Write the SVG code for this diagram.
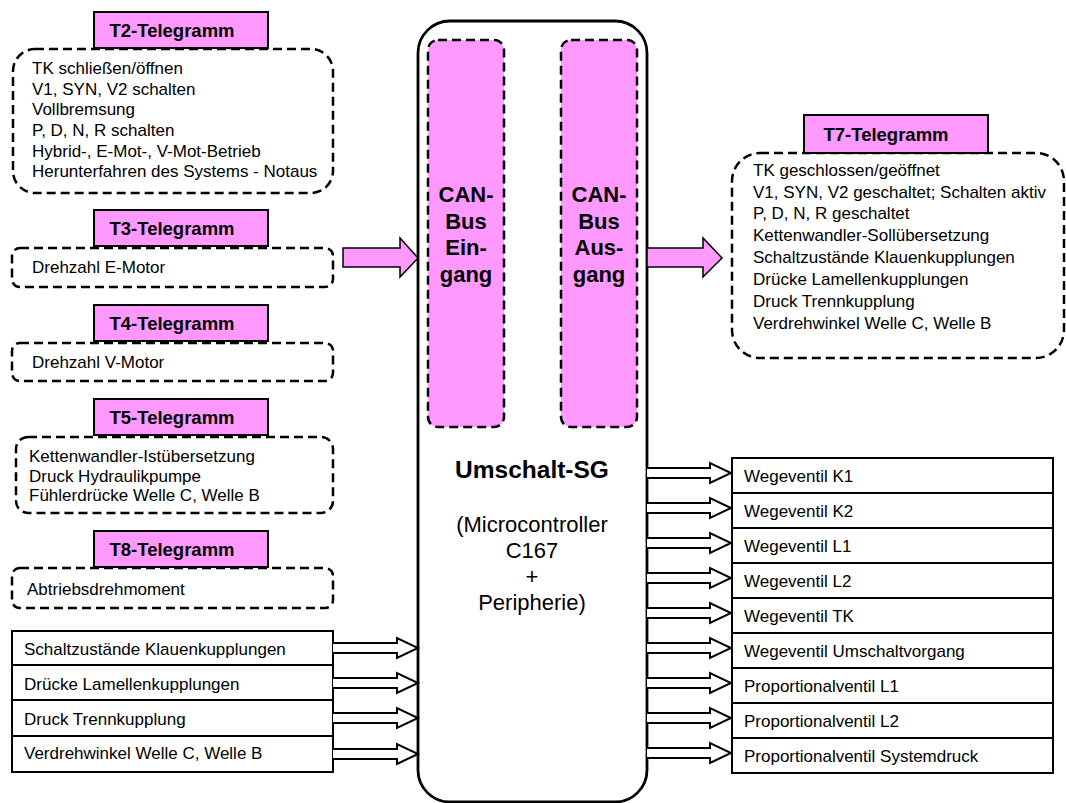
<svg xmlns="http://www.w3.org/2000/svg" width="1066" height="803" viewBox="0 0 1066 803">
<style>
text{font-family:"Liberation Sans",Arial,sans-serif;fill:#000}
.t{font-size:17px}
.b{font-weight:bold}
.lh{font-weight:bold;font-size:18.5px}
.lbl{fill:#FF99FF;stroke:#000;stroke-width:2}
.dash{fill:#fff;stroke:#000;stroke-width:2.5;stroke-dasharray:9 5}
.row{fill:#fff;stroke:#000;stroke-width:2}
.hol{fill:#fff;stroke:#000;stroke-width:2;stroke-linejoin:miter}
.pa{fill:#FF99FF;stroke:#000;stroke-width:1.5}
</style>
<rect width="1066" height="803" fill="#fff"/>

<g id="umschalt-sg">
<rect x="418" y="21" width="229" height="781" rx="32" fill="#fff" stroke="#000" stroke-width="2.8"/>
<text x="532" y="478" text-anchor="middle" class="b" font-size="24.5">Umschalt-SG</text>
<text x="532" y="532" text-anchor="middle" font-size="22">(Microcontroller</text>
<text x="532" y="558" text-anchor="middle" font-size="22">C167</text>
<text x="532" y="584" text-anchor="middle" font-size="22">+</text>
<text x="532" y="610" text-anchor="middle" font-size="22">Peripherie)</text>
</g>

<g id="can-eingang">
<rect x="428" y="40" width="76" height="387" rx="10" fill="#FF99FF" stroke="#000" stroke-width="2.5" stroke-dasharray="9 5"/>
<text x="466" text-anchor="middle" class="b" font-size="22"><tspan x="466" y="202">CAN-</tspan><tspan x="466" y="229">Bus</tspan><tspan x="466" y="255">Ein-</tspan><tspan x="466" y="282">gang</tspan></text>
</g>

<g id="can-ausgang">
<rect x="561" y="40" width="76" height="387" rx="10" fill="#FF99FF" stroke="#000" stroke-width="2.5" stroke-dasharray="9 5"/>
<text x="599" text-anchor="middle" class="b" font-size="22"><tspan x="599" y="202">CAN-</tspan><tspan x="599" y="229">Bus</tspan><tspan x="599" y="255">Aus-</tspan><tspan x="599" y="282">gang</tspan></text>
</g>

<g id="t2">
<rect class="dash" x="13" y="49" width="320" height="144" rx="22"/>
<rect class="lbl" x="94" y="12" width="174" height="36"/>
<text x="172" y="37" text-anchor="middle" class="lh">T2-Telegramm</text>
<text class="t" x="32"><tspan x="32" y="74">TK schließen/öffnen</tspan><tspan x="32" y="95">V1, SYN, V2 schalten</tspan><tspan x="32" y="115">Vollbremsung</tspan><tspan x="32" y="136">P, D, N, R schalten</tspan><tspan x="32" y="157">Hybrid-, E-Mot-, V-Mot-Betrieb</tspan><tspan x="32" y="177">Herunterfahren des Systems - Notaus</tspan></text>
</g>

<g id="t3">
<rect class="dash" x="12" y="248" width="321" height="39" rx="8"/>
<rect class="lbl" x="94" y="210" width="174" height="36"/>
<text x="172" y="235" text-anchor="middle" class="lh">T3-Telegramm</text>
<text class="t" x="32" y="273">Drehzahl E-Motor</text>
</g>

<g id="t4">
<rect class="dash" x="12" y="343" width="321" height="38" rx="8"/>
<rect class="lbl" x="94" y="305" width="174" height="36"/>
<text x="172" y="330" text-anchor="middle" class="lh">T4-Telegramm</text>
<text class="t" x="32" y="368">Drehzahl V-Motor</text>
</g>

<g id="t5">
<rect class="dash" x="16" y="437" width="317" height="76" rx="12"/>
<rect class="lbl" x="94" y="399" width="174" height="36"/>
<text x="172" y="424" text-anchor="middle" class="lh">T5-Telegramm</text>
<text class="t" x="29"><tspan x="29" y="462">Kettenwandler-Istübersetzung</tspan><tspan x="29" y="482">Druck Hydraulikpumpe</tspan><tspan x="29" y="501">Fühlerdrücke Welle C, Welle B</tspan></text>
</g>

<g id="t8">
<rect class="dash" x="12" y="568" width="321" height="40" rx="8"/>
<rect class="lbl" x="94" y="531" width="174" height="36"/>
<text x="172" y="556" text-anchor="middle" class="lh">T8-Telegramm</text>
<text class="t" x="27" y="595">Abtriebsdrehmoment</text>
</g>

<g id="t7">
<rect class="dash" x="732" y="153" width="332" height="205" rx="28"/>
<rect class="lbl" x="804" y="115" width="184" height="38"/>
<text x="886" y="141" text-anchor="middle" class="lh">T7-Telegramm</text>
<text class="t" x="753"><tspan x="753" y="176">TK geschlossen/geöffnet</tspan><tspan x="753" y="198">V1, SYN, V2 geschaltet; Schalten aktiv</tspan><tspan x="753" y="219">P, D, N, R geschaltet</tspan><tspan x="753" y="241">Kettenwandler-Sollübersetzung</tspan><tspan x="753" y="263">Schaltzustände Klauenkupplungen</tspan><tspan x="753" y="285">Drücke Lamellenkupplungen</tspan><tspan x="753" y="307">Druck Trennkupplung</tspan><tspan x="753" y="329">Verdrehwinkel Welle C, Welle B</tspan></text>
</g>

<g id="inputs">
<rect class="row" x="12" y="631" width="321" height="34"/>
<text class="t" x="24" y="655">Schaltzustände Klauenkupplungen</text>
<rect class="row" x="12" y="665" width="321" height="35"/>
<text class="t" x="24" y="690">Drücke Lamellenkupplungen</text>
<rect class="row" x="12" y="700" width="321" height="36"/>
<text class="t" x="24" y="725">Druck Trennkupplung</text>
<rect class="row" x="12" y="736" width="321" height="36"/>
<text class="t" x="24" y="759">Verdrehwinkel Welle C, Welle B</text>
</g>

<g id="outputs">
<rect class="row" x="732" y="458" width="321" height="35"/>
<text class="t" x="744" y="482">Wegeventil K1</text>
<rect class="row" x="732" y="493" width="321" height="35"/>
<text class="t" x="744" y="517">Wegeventil K2</text>
<rect class="row" x="732" y="528" width="321" height="35"/>
<text class="t" x="744" y="552">Wegeventil L1</text>
<rect class="row" x="732" y="563" width="321" height="35"/>
<text class="t" x="744" y="587">Wegeventil L2</text>
<rect class="row" x="732" y="598" width="321" height="35"/>
<text class="t" x="744" y="622">Wegeventil TK</text>
<rect class="row" x="732" y="633" width="321" height="35"/>
<text class="t" x="744" y="657">Wegeventil Umschaltvorgang</text>
<rect class="row" x="732" y="668" width="321" height="35"/>
<text class="t" x="744" y="692">Proportionalventil L1</text>
<rect class="row" x="732" y="703" width="321" height="35"/>
<text class="t" x="744" y="727">Proportionalventil L2</text>
<rect class="row" x="732" y="738" width="321" height="35"/>
<text class="t" x="744" y="762">Proportionalventil Systemdruck</text>
</g>

<g id="connectors">
<path class="pa" d="M343,248 H400 V238 L418,258 L400,277 V267 H343 Z"/>
<path class="pa" d="M647,248 H703 V238 L722,258 L703,277 V267 H647 Z"/>
<path class="hol" d="M333,643 H397 V638 L418,648 L397,658 V653 H333"/>
<path class="hol" d="M333,678 H397 V673 L418,683 L397,693 V688 H333"/>
<path class="hol" d="M333,713 H397 V708 L418,718 L397,728 V723 H333"/>
<path class="hol" d="M333,749 H397 V744 L418,754 L397,764 V759 H333"/>
<path class="hol" d="M647,468 H710 V463 L731,473 L710,483 V478 H647"/>
<path class="hol" d="M647,503 H710 V498 L731,508 L710,518 V513 H647"/>
<path class="hol" d="M647,538 H710 V533 L731,543 L710,553 V548 H647"/>
<path class="hol" d="M647,573 H710 V568 L731,578 L710,588 V583 H647"/>
<path class="hol" d="M647,608 H710 V603 L731,613 L710,623 V618 H647"/>
<path class="hol" d="M647,643 H710 V638 L731,648 L710,658 V653 H647"/>
<path class="hol" d="M647,678 H710 V673 L731,683 L710,693 V688 H647"/>
<path class="hol" d="M647,713 H710 V708 L731,718 L710,728 V723 H647"/>
<path class="hol" d="M647,748 H710 V743 L731,753 L710,763 V758 H647"/>
</g>
</svg>
